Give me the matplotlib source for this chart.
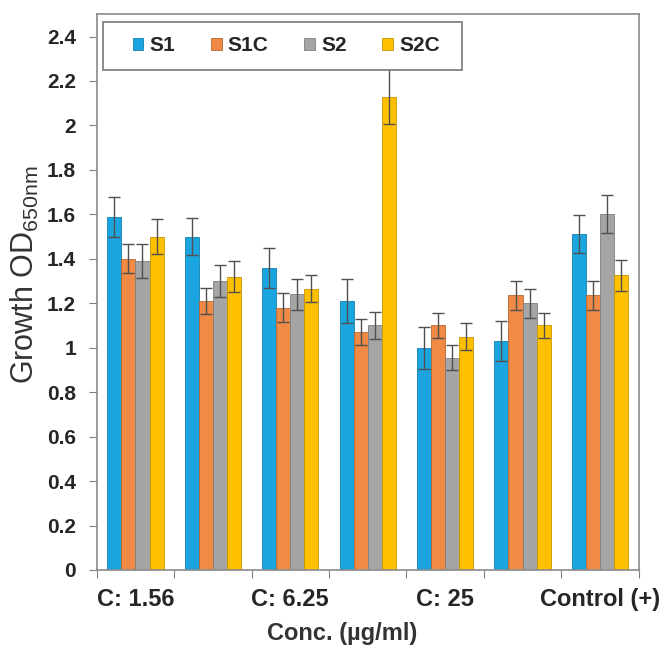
import numpy as np
import matplotlib.pyplot as plt
from matplotlib.patches import Rectangle

plt.rcParams['font.family'] = ['Liberation Sans', 'DejaVu Sans']
plt.rcParams['mathtext.default'] = 'regular'

# x labels (every other category left blank, like the axis shows)
categories = ["C: 1.56", "", "C: 6.25", "", "C: 25", "", "Control (+)"]
series = ["S1", "S1C", "S2", "S2C"]
colors = ["#1BA5E0", "#F08A45", "#A5A5A5", "#FFC000"]
edges = ["#1580B0", "#B86530", "#808080", "#C89600"]

s1 = [1.59, 1.50, 1.36, 1.21, 1.00, 1.03, 1.51]
s1c = [1.40, 1.21, 1.18, 1.07, 1.10, 1.235, 1.235]
s2 = [1.39, 1.30, 1.24, 1.10, 0.955, 1.20, 1.60]
s2c = [1.50, 1.32, 1.265, 2.13, 1.05, 1.10, 1.325]

s1_err = [0.09, 0.085, 0.09, 0.10, 0.095, 0.09, 0.085]
s1c_err = [0.065, 0.06, 0.065, 0.06, 0.055, 0.065, 0.065]
s2_err = [0.075, 0.07, 0.07, 0.06, 0.055, 0.065, 0.085]
s2c_err = [0.08, 0.07, 0.06, 0.125, 0.06, 0.055, 0.07]

values = [s1, s1c, s2, s2c]
errors = [s1_err, s1c_err, s2_err, s2c_err]

fig = plt.figure(figsize=(6.67, 6.55), dpi=100)
ax = fig.add_axes([0.145, 0.1298, 0.8126, 0.8484])

x = np.arange(len(categories)) + 0.5
w = 0.182
for i in range(4):
    pos = x + (i - 1.5) * w
    ax.bar(pos, values[i], w, color=colors[i], edgecolor=edges[i],
           linewidth=0.6, label=series[i], zorder=2)
    ax.errorbar(pos, values[i], yerr=errors[i], fmt='none', ecolor='#505050',
                elinewidth=1.0, capsize=4, capthick=1.0, zorder=3)

ax.set_xlim(0, len(categories))
ax.set_ylim(0, 2.5)
ax.set_yticks(np.arange(0, 2.41, 0.2))
ax.set_yticklabels(['0', '0.2', '0.4', '0.6', '0.8', '1', '1.2', '1.4',
                    '1.6', '1.8', '2', '2.2', '2.4'])
ax.set_xticks(np.arange(len(categories) + 1))
ax.set_xticklabels([])
ax.set_xticks(x, minor=True)
ax.set_xticklabels(categories, minor=True)
ax.tick_params(axis='x', which='minor', length=0, pad=13)
ax.tick_params(axis='x', which='major', length=6, color='#808080', direction='out')
ax.tick_params(axis='y', length=6, color='#808080', direction='out', pad=9)

for lab in ax.get_xticklabels(minor=True):
    lab.set_fontweight('bold')
    lab.set_fontsize(17)
    lab.set_color('#262626')
for lab in ax.get_yticklabels():
    lab.set_fontweight('bold')
    lab.set_fontsize(15)
    lab.set_color('#262626')

for sp in ax.spines.values():
    sp.set_color('#8a8a8a')
    sp.set_linewidth(1.2)

ax.set_xlabel('Conc. (µg/ml)', fontsize=17, fontweight='bold', color='#333333')
ax.xaxis.set_label_coords(0.4526, -0.093)
fig.text(0.0375, 0.58, 'Growth OD$_{650nm}$', fontsize=22, color='#333333',
         rotation=90, ha='center', va='center')

# legend box drawn separately so the entries can sit inset from its edges
ax.add_patch(Rectangle((0.0116, 0.8998), 0.662, 0.0864, transform=ax.transAxes,
                       facecolor='white', edgecolor='#777777', linewidth=1.2,
                       zorder=4))
leg = ax.legend(loc='center left', ncol=4, mode='expand',
                bbox_to_anchor=(0.067, 0.8998, 0.566, 0.0864), borderaxespad=0,
                frameon=False, handlelength=0.5, handleheight=0.5,
                handletextpad=0.3, columnspacing=1.4, borderpad=0,
                prop={'weight': 'bold', 'size': 15})
leg.set_zorder(5)
for t in leg.get_texts():
    t.set_color('#262626')

fig.savefig('out.png', dpi=100)
